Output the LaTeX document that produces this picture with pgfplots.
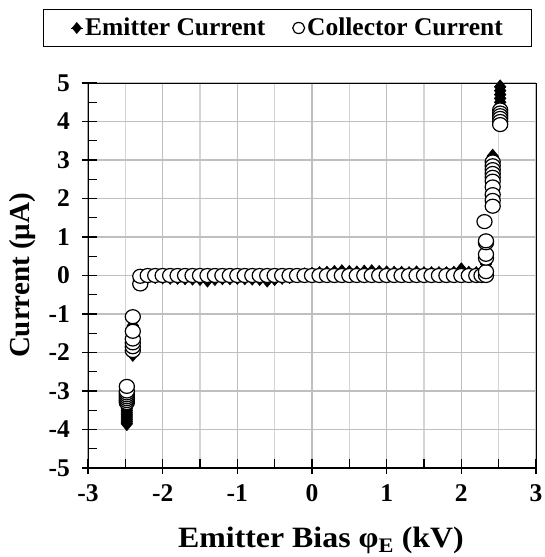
\documentclass[border=0pt]{standalone}
\usepackage{fontspec}
\setmainfont{Liberation Serif}
\newfontfamily\stretchedserif[FakeStretch=1.08]{Liberation Serif}
\usepackage{pgfplots}
\pgfplotsset{compat=1.18}
\newcommand{\tickfont}{\bfseries\fontsize{25.5bp}{29bp}\selectfont}
\newcommand{\ylblfont}{\bfseries\fontsize{29bp}{33bp}\selectfont}
\newcommand{\xlblfont}{\stretchedserif\bfseries\fontsize{29.5bp}{33bp}\selectfont}
\begin{document}
\begin{tikzpicture}
\path[use as bounding box] (-88bp,-89bp) rectangle (457bp,468bp);
\begin{axis}[
  scale only axis, width=448bp, height=385bp,
  xmin=-3, xmax=3, ymin=-5, ymax=5,
  xtick={-3,...,3}, ytick={-5,...,5},
  minor x tick num=1, minor y tick num=1,
  xmajorgrids, xminorgrids, ymajorgrids,
  major grid style={line width=1.2bp, black!25},
  minor grid style={line width=1.2bp, black!17},
  xtick pos=left, ytick pos=left,
  tick align=inside, major tick length=9bp, minor tick length=9bp,
  every tick/.style={black, line width=1.3bp},
  extra x ticks={-3,...,3}, extra y ticks={-5,...,5},
  extra x tick labels={}, extra y tick labels={},
  extra tick style={tick align=outside, major tick length=6bp, grid=none},
  axis line style={line width=0.8bp},
  /pgf/number format/assume math mode=true,
  ticklabel style={font=\tickfont},
  xticklabel style={yshift=-13.5bp},
  yticklabel style={xshift=-14.5bp},
  xlabel={Emitter Bias φ\textsubscript{E} (kV)},
  ylabel={Current (μA)},
  xlabel style={font=\xlblfont, at={(axis description cs:0.52,-0.187)}, anchor=center},
  ylabel style={font=\ylblfont, at={(axis description cs:-0.147,0.5)}, anchor=center},
  legend columns=2,
  legend style={at={(rel axis cs:-0.10045,1.14286)}, anchor=west,
    draw=black, line width=0.8bp, fill=white,
    inner xsep=27bp, inner ysep=6.5bp,
    nodes={inner sep=2bp, text depth=0.2em},
    font=\tickfont,
    /tikz/every even column/.append style={column sep=25bp}},
  legend image code/.code={\path (-6bp,0bp) -- (6bp,0bp);
    \draw[#1, mark size=5.5bp] plot coordinates {(0bp,0bp)};},
]
\addplot[only marks, mark=diamond*, mark size=7bp,
  mark options={fill=black, draw=black, line width=0.6bp, xscale=1.1}] coordinates {
(-2.48,-3.0) (-2.48,-3.1) (-2.48,-3.2) (-2.48,-3.3) (-2.48,-3.35) (-2.48,-3.4)
(-2.48,-3.45) (-2.48,-3.5) (-2.48,-3.55) (-2.48,-3.6) (-2.48,-3.65) (-2.48,-3.7)
(-2.48,-3.75) (-2.48,-3.8) (-2.48,-3.85)
(-2.40,-1.3) (-2.40,-1.45) (-2.40,-1.6) (-2.40,-1.75) (-2.40,-1.85) (-2.40,-1.95) (-2.40,-2.05)
(-2.30,-0.15) (-2.30,-0.05)
(-2.2,-0.03) (-2.1,-0.03) (-2.0,-0.04) (-1.9,-0.05) (-1.8,-0.05) (-1.7,-0.06)
(-1.6,-0.07) (-1.5,-0.08) (-1.4,-0.12) (-1.3,-0.08) (-1.2,-0.06) (-1.1,-0.06)
(-1.0,-0.05) (-0.9,-0.06) (-0.8,-0.07) (-0.7,-0.08) (-0.6,-0.12) (-0.5,-0.08)
(-0.4,-0.05) (-0.3,-0.03) (-0.2,0.0) (-0.1,0.02) (0.0,0.03) (0.1,0.05)
(0.2,0.06) (0.3,0.08) (0.4,0.1) (0.5,0.08) (0.6,0.07) (0.7,0.09)
(0.8,0.1) (0.9,0.08) (1.0,0.07) (1.1,0.06) (1.2,0.06) (1.3,0.05)
(1.4,0.07) (1.5,0.05) (1.6,0.05) (1.7,0.05) (1.8,0.05) (1.9,0.06)
(2.0,0.15) (2.1,0.06) (2.2,0.05) (2.3,0.05)
(2.33,0.0) (2.33,0.3) (2.33,0.5) (2.33,0.9)
(2.42,2.0) (2.42,2.2) (2.42,2.4) (2.42,2.6) (2.42,2.8) (2.42,2.9) (2.42,3.0) (2.42,3.1)
(2.52,4.4) (2.52,4.5) (2.52,4.6) (2.52,4.7) (2.52,4.8) (2.52,4.9)
};
\addlegendentry{Emitter Current}
\addplot[only marks, mark=*, mark size=7bp,
  mark options={fill=white, draw=black, line width=1.2bp, xscale=1.08}] coordinates {
(-2.48,-3.3) (-2.48,-3.25) (-2.48,-3.2) (-2.48,-3.15) (-2.48,-3.1) (-2.48,-3.05) (-2.48,-3.0) (-2.48,-2.88)
(-2.40,-1.95) (-2.40,-1.85) (-2.40,-1.75) (-2.40,-1.65) (-2.40,-1.45) (-2.40,-1.07)
(-2.30,-0.22) (-2.30,-0.02)
(-2.2,0.0) (-2.1,0.0) (-2.0,0.0) (-1.9,0.0) (-1.8,0.0) (-1.7,0.0)
(-1.6,0.0) (-1.5,0.0) (-1.4,0.0) (-1.3,0.0) (-1.2,0.0) (-1.1,0.0)
(-1.0,0.0) (-0.9,0.0) (-0.8,0.0) (-0.7,0.0) (-0.6,0.0) (-0.5,0.0)
(-0.4,0.0) (-0.3,0.0) (-0.2,0.0) (-0.1,0.0) (0.0,0.0) (0.1,0.0)
(0.2,0.0) (0.3,0.0) (0.4,0.0) (0.5,0.0) (0.6,0.0) (0.7,0.0)
(0.8,0.0) (0.9,0.0) (1.0,0.0) (1.1,0.0) (1.2,0.0) (1.3,0.0)
(1.4,0.0) (1.5,0.0) (1.6,0.0) (1.7,0.0) (1.8,0.0) (1.9,0.0)
(2.0,0.0) (2.1,0.0) (2.2,0.0) (2.27,0.0)
(2.33,0.0) (2.33,0.1) (2.33,0.45) (2.33,0.55) (2.33,0.85) (2.33,0.9) (2.31,1.4)
(2.42,2.95) (2.42,2.85) (2.42,2.75) (2.42,2.65) (2.42,2.55) (2.42,2.45) (2.42,2.3) (2.42,2.1) (2.42,1.95) (2.42,1.8)
(2.52,4.3) (2.52,4.22) (2.52,4.15) (2.52,4.08) (2.52,4.0) (2.52,3.92)
};
\addlegendentry{Collector Current\hspace{10bp}}
\draw[line width=2bp, black] (rel axis cs:0,1) -- (rel axis cs:0,0) -- (rel axis cs:1,0);
\end{axis}
\end{tikzpicture}
\end{document}
